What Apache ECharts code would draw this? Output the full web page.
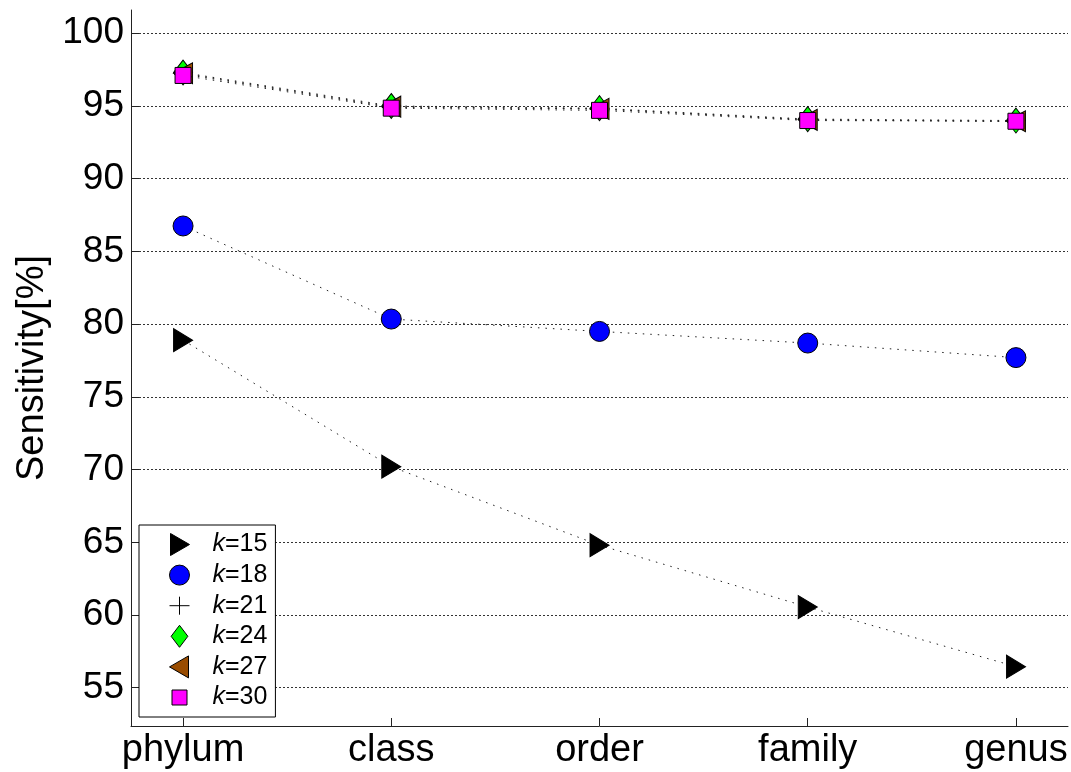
<!DOCTYPE html>
<html>
<head>
<meta charset="utf-8">
<script src="https://cdn.jsdelivr.net/npm/echarts@6/dist/echarts.min.js"></script>
<style>
html,body{margin:0;padding:0;background:#fff;}
#chart{width:1071px;height:772px;}
</style>
</head>
<body>
<div id="chart"></div>
<script>
const categories = ['phylum', 'class', 'order', 'family', 'genus'];
const yTicks = [55, 60, 65, 70, 75, 80, 85, 90, 95, 100];
const seriesNames = ['15', '18', '21', '24', '27', '30'];
const k15 = [78.9, 70.2, 64.8, 60.55, 56.45];
const k18 = [86.75, 80.35, 79.5, 78.7, 77.7];
const k21 = [97.2, 94.9, 94.8, 94.05, 93.95];
const k24 = [97.3, 95.0, 94.85, 94.1, 94.0];
const k27 = [97.25, 94.95, 94.8, 94.05, 93.95];
const k30 = [97.1, 94.85, 94.7, 94.0, 93.95];

const FONT = '"Liberation Sans", Arial, sans-serif';
const pts = arr => arr.map((v, i) => [i + 1, v]);

const lineStyle = {color: '#222', width: 1, type: [1.5, 6]};
const styles = [
  {symbol: 'triangle', size: [23, 19], rotate: -90, color: '#000000',
   icon: 'path://M0,0M24,22M3,0L22,11L3,22Z'},
  {symbol: 'circle', size: 20, rotate: 0, color: '#0000ff',
   icon: 'path://M0,0M24,22M12,1A10,10,0,1,1,11.99,1Z'},
  {symbol: 'path://M5,0L5,10M0,5L10,5', size: 18, rotate: 0, color: '#000000',
   icon: 'path://M0,0M24,22M12,2L12,20M2,11L22,11'},
  {symbol: 'diamond', size: [19, 25], rotate: 0, color: '#00ff00',
   icon: 'path://M0,0M24,22M12,-1.5L21.5,11L12,23.5L2.5,11Z'},
  {symbol: 'triangle', size: [21, 19], rotate: 90, color: '#994c00',
   icon: 'path://M0,0M24,22M21,0L2,11L21,22Z'},
  {symbol: 'rect', size: 16, rotate: 0, color: '#ff00ff',
   icon: 'path://M0,0M24,22M4.5,3.5L19.5,3.5L19.5,18.5L4.5,18.5Z'}
];
const allData = [k15, k18, k21, k24, k27, k30];

const series = allData.map((d, i) => ({
  name: seriesNames[i],
  type: 'line',
  data: pts(d),
  symbol: styles[i].symbol,
  symbolSize: styles[i].size,
  symbolRotate: styles[i].rotate,
  showAllSymbol: true,
  lineStyle: lineStyle,
  itemStyle: {color: styles[i].color, borderColor: '#000', borderWidth: 1},
  emphasis: {disabled: true},
  animation: false,
  z: 2 + i
}));

const chart = echarts.init(document.getElementById('chart'), null, {renderer: 'canvas'});
chart.setOption({
  backgroundColor: '#ffffff',
  animation: false,
  grid: {left: 131, right: 3, top: 10, bottom: 46, containLabel: false},
  xAxis: {
    type: 'value', min: 0.75, max: 5.25,
    axisLine: {show: true, onZero: false, lineStyle: {color: '#222', width: 1}},
    axisTick: {show: true, inside: true, length: 8, customValues: [1, 2, 3, 4, 5], lineStyle: {color: '#222'}},
    axisLabel: {customValues: [1, 2, 3, 4, 5], formatter: v => categories[Math.round(v) - 1] || '',
      fontSize: 38, color: '#000', fontFamily: FONT, margin: 6},
    splitLine: {show: false}
  },
  yAxis: {
    type: 'value', min: 52.37, max: 101.6,
    name: 'Sensitivity[%]', nameLocation: 'middle', nameGap: 78,
    nameTextStyle: {fontSize: 38, color: '#000', fontFamily: FONT},
    axisLine: {show: true, lineStyle: {color: '#222', width: 1}},
    axisTick: {show: true, inside: true, length: 8, customValues: yTicks, lineStyle: {color: '#222'}},
    axisLabel: {customValues: yTicks, fontSize: 37, color: '#000', fontFamily: FONT, margin: 7},
    splitLine: {show: true, lineStyle: {color: '#333', width: 1, type: [2, 2]}}
  },
  legend: {
    orient: 'vertical', left: 139, top: 525,
    backgroundColor: '#fff', borderColor: '#000', borderWidth: 1,
    padding: [7, 8, 7, 28],
    itemWidth: 24, itemHeight: 22, itemGap: 5.6,
    selectedMode: false,
    data: seriesNames.map((n, i) => ({name: n, icon: styles[i].icon,
      itemStyle: {color: styles[i].color, borderColor: '#000', borderWidth: 1}})),
    formatter: n => '{i|k}=' + n,
    textStyle: {fontSize: 25, color: '#000', fontFamily: FONT, padding: [0, 0, 0, 16],
      rich: {i: {fontStyle: 'italic', fontSize: 25, fontFamily: FONT, color: '#000'}}}
  },
  series: series
});
</script>
</body>
</html>
